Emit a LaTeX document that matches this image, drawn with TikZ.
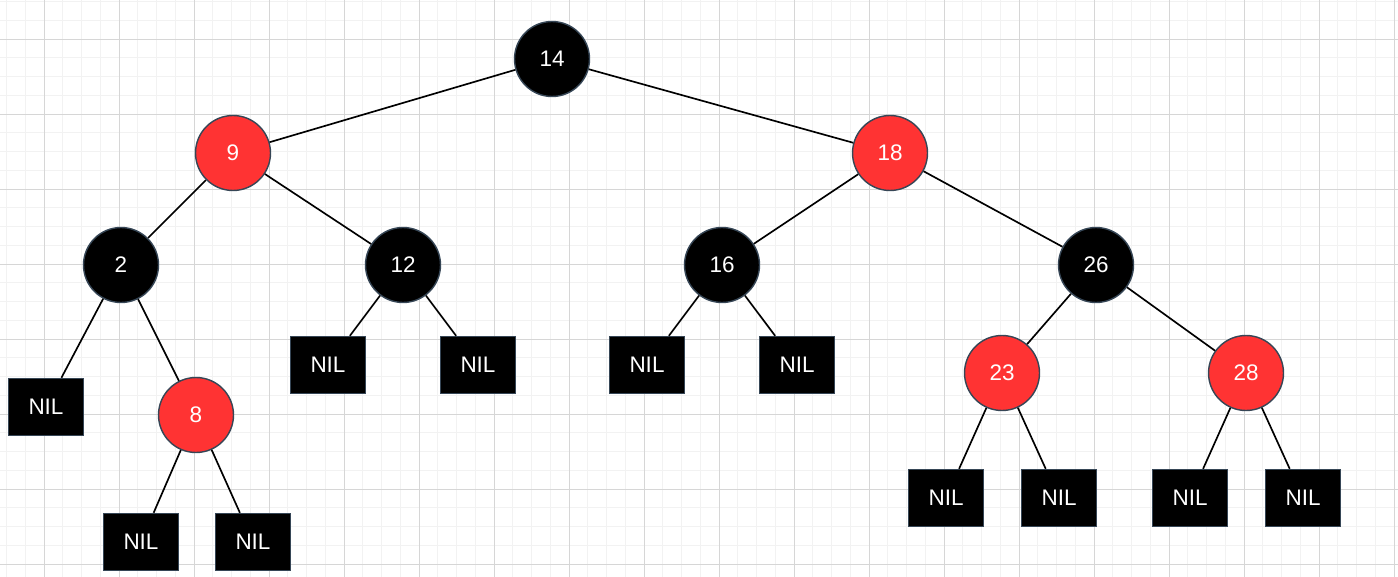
\documentclass[tikz,border=0pt]{standalone}
\usepackage{fontspec}
\setmainfont{Liberation Sans}
\usetikzlibrary{positioning}
\definecolor{rbred}{HTML}{FF3333}
\definecolor{rbline}{HTML}{364656}
\definecolor{gridminor}{HTML}{F2F2F2}
\definecolor{gridmajor}{HTML}{D6D6D6}

\begin{document}
\begin{tikzpicture}[
    x=0.02cm, y=-0.02cm,
    blacknode/.style={circle, draw=rbline, line width=0.8pt, fill=black, text=white, minimum size=1.5cm, inner sep=0pt, font=\fontsize{12.8}{15}\selectfont},
    rednode/.style={blacknode, fill=rbred},
    nil/.style={rectangle, draw=rbline, line width=0.8pt, fill=black, text=white, minimum width=1.5cm, minimum height=1.14cm, inner sep=0pt, font=\fontsize{12.8}{15}\selectfont},
    link/.style={draw=black, line width=0.95pt}
]
    \useasboundingbox (0,0) rectangle (1398,577);

    % Background grid
    \foreach \x in {6.5,25.25,...,1398}
        \draw[gridminor, line width=0.5pt] (\x,0) -- (\x,577);
    \foreach \y in {1.5,20.25,...,577}
        \draw[gridminor, line width=0.5pt] (0,\y) -- (1398,\y);
    \foreach \x in {44,119,...,1398}
        \draw[gridmajor, line width=0.5pt] (\x,0) -- (\x,577);
    \foreach \y in {39,114,...,577}
        \draw[gridmajor, line width=0.5pt] (0,\y) -- (1398,\y);

    % Root
    \node[blacknode] (n14) at (552,59) {14};

    % Left subtree
    \node[rednode] (n9) at (233,153) {9};
    \node[blacknode] (n2) at (121,265) {2};
    \node[blacknode] (n12) at (403,265) {12};
    \node[nil] (nil2) at (46,407) {NIL};
    \node[rednode] (n8) at (196,415) {8};
    \node[nil] (nil8a) at (141,542) {NIL};
    \node[nil] (nil8b) at (253,542) {NIL};
    \node[nil] (nil12a) at (328,365) {NIL};
    \node[nil] (nil12b) at (478,365) {NIL};

    % Right subtree
    \node[rednode] (n18) at (890,153) {18};
    \node[blacknode] (n16) at (722,265) {16};
    \node[blacknode] (n26) at (1096,265) {26};
    \node[nil] (nil16a) at (647,365) {NIL};
    \node[nil] (nil16b) at (797,365) {NIL};
    \node[rednode] (n23) at (1002,373) {23};
    \node[rednode] (n28) at (1246,373) {28};
    \node[nil] (nil23a) at (946,498) {NIL};
    \node[nil] (nil23b) at (1059,498) {NIL};
    \node[nil] (nil28a) at (1190,498) {NIL};
    \node[nil] (nil28b) at (1303,498) {NIL};

    % Links
    \draw[link] (n14) -- (n9);
    \draw[link] (n14) -- (n18);
    \draw[link] (n9) -- (n2);
    \draw[link] (n9) -- (n12);
    \draw[link] (n2) -- (nil2);
    \draw[link] (n2) -- (n8);
    \draw[link] (n8) -- (nil8a);
    \draw[link] (n8) -- (nil8b);
    \draw[link] (n12) -- (nil12a);
    \draw[link] (n12) -- (nil12b);
    \draw[link] (n18) -- (n16);
    \draw[link] (n18) -- (n26);
    \draw[link] (n16) -- (nil16a);
    \draw[link] (n16) -- (nil16b);
    \draw[link] (n26) -- (n23);
    \draw[link] (n26) -- (n28);
    \draw[link] (n23) -- (nil23a);
    \draw[link] (n23) -- (nil23b);
    \draw[link] (n28) -- (nil28a);
    \draw[link] (n28) -- (nil28b);

\end{tikzpicture}
\end{document}
